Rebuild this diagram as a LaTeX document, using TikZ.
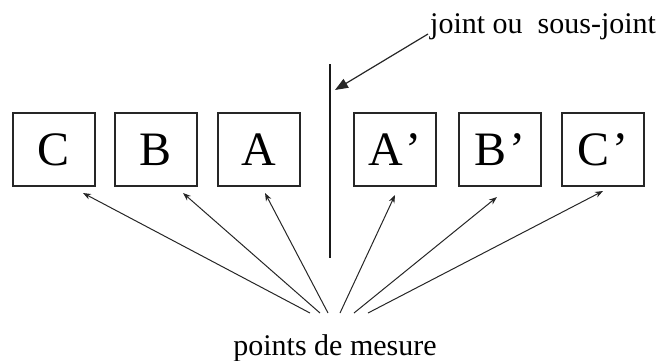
\documentclass[tikz,border=0pt]{standalone}
\usepackage{fontspec}
\setmainfont{Liberation Serif}
\usetikzlibrary{arrows.meta}
\begin{document}
\begin{tikzpicture}[x=1pt,y=-1pt,
  box/.style={draw=black!85,line width=1.3pt,minimum width=82pt,minimum height=73pt,inner sep=0pt,font=\fontsize{48}{50}\selectfont},
  ray/.style={draw=black!85,line width=1pt,-{Stealth[length=8pt,width=6pt]}},
  lbl/.style={font=\fontsize{30}{34}\selectfont,inner sep=0pt}]
\useasboundingbox (0,0) rectangle (664,360);
\node[box] (C) at (54,149.5) {C};
\node[box] (B) at (156,149.5) {B};
\node[box] (A) at (259,149.5) {A};
\node[box] (Ap) at (395,149.5) {A\kern3pt’};
\node[box] (Bp) at (500,149.5) {B\kern3pt’};
\node[box] (Cp) at (603,149.5) {C\kern3pt’};
\coordinate (jt) at (330,64);
\coordinate (jb) at (330,258);
\draw[line width=2.6pt,black!90] (jt) -- (jb);
\node[lbl,anchor=base west] (jl) at (430,33) {joint ou \ sous-joint};
\coordinate (jstart) at (428,34);
\coordinate (jtip) at (335,90);
\draw[draw=black!85,line width=1.2pt,-{Triangle[length=13pt,width=10pt]}] (jstart) -- (jtip);
\node[lbl,anchor=base] (pm) at (335,355) {points de mesure};
\coordinate (s1) at (310,313);
\coordinate (s2) at (320,313);
\coordinate (s3) at (328,313);
\coordinate (s4) at (340,313);
\coordinate (s5) at (354,313);
\coordinate (s6) at (368,313);
\coordinate (t1) at (83,193);
\coordinate (t2) at (183,193);
\coordinate (t3) at (265,193);
\coordinate (t4) at (395,195);
\coordinate (t5) at (497,197);
\coordinate (t6) at (603,191);
\draw[ray] (s1) -- (t1);
\draw[ray] (s2) -- (t2);
\draw[ray] (s3) -- (t3);
\draw[ray] (s4) -- (t4);
\draw[ray] (s5) -- (t5);
\draw[ray] (s6) -- (t6);
\end{tikzpicture}
\end{document}
